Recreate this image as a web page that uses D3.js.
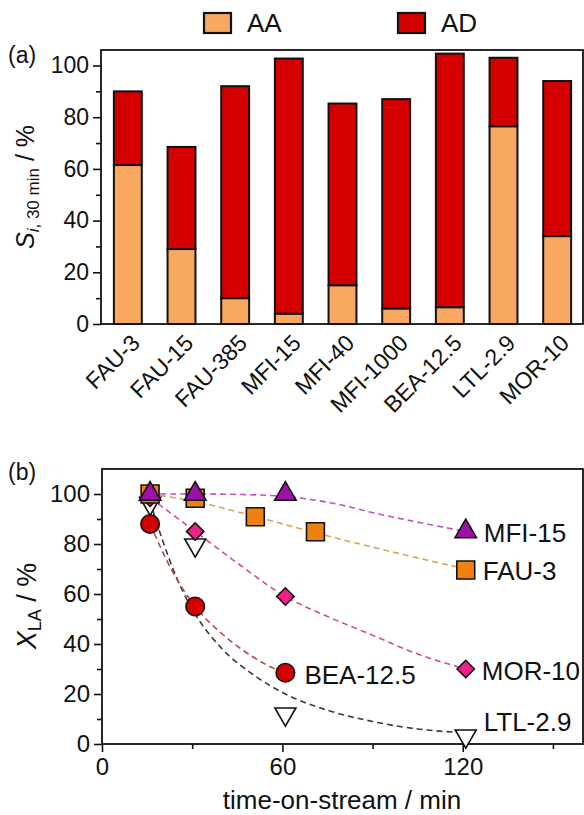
<!DOCTYPE html>
<html><head><meta charset="utf-8">
<script src="https://cdn.jsdelivr.net/npm/d3@7"></script>
<style>body{margin:0;background:#fff} svg{display:block;font-family:"Liberation Sans",Arial,sans-serif}</style>
</head><body><svg id="c" width="584" height="815"></svg>
<script>
// ---------- DATA ----------
const categories = ["FAU-3","FAU-15","FAU-385","MFI-15","MFI-40","MFI-1000","BEA-12.5","LTL-2.9","MOR-10"];
const aaValues = [61.5, 29, 10, 4, 15, 6, 6.5, 76.5, 34];
const adValues = [28.5, 39.5, 82, 98.7, 70.3, 81, 98.1, 26.5, 60];
const seriesNames = ["AA", "AD"];
const yTicksA = [0, 20, 40, 60, 80, 100];
const yMinorA = [10, 30, 50, 70, 90];

const sampleNames = ["MFI-15", "FAU-3", "MOR-10", "BEA-12.5", "LTL-2.9"];
const timeMFI15 = [16, 31, 61, 121];        const convMFI15 = [100, 100, 100, 85];
const timeFAU3  = [16, 31, 51, 71, 121];    const convFAU3  = [100, 98.3, 90.9, 84.9, 69.6];
const timeMOR10 = [16, 31, 61, 121];        const convMOR10 = [98.5, 85, 59, 30];
const timeBEA   = [16, 31, 61];             const convBEA   = [88, 55, 28.5];
const timeLTL   = [16, 31, 61, 121];        const convLTL   = [96.3, 79.6, 12, 3.2];
// dashed fit curves
const fitTMFI15 = [16, 31, 46, 61, 76, 92, 106, 121]; const fitMFI15 = [100, 100, 99.8, 99, 96.5, 92, 88.5, 85];
const fitTFAU3  = [16, 31, 51, 71, 96, 121];          const fitFAU3  = [100, 97, 91, 84.5, 77, 70];
const fitTMOR10 = [16, 31, 46, 61, 75, 90, 105, 121]; const fitMOR10 = [98.5, 85, 71.5, 59, 51, 43.5, 36, 30];
const fitTBEA   = [16, 23, 31, 40, 50, 61];           const fitBEA   = [88, 70, 55, 44, 35, 28];
const fitTLTL   = [16, 20, 25, 31, 40, 50, 61, 75, 90, 105, 121]; const fitLTL = [97, 82, 66, 52, 38, 28, 20, 13.5, 9, 6, 4.5];
const xTicksB = [0, 60, 120];
const xMinorB = [30, 90, 150];
const yTicksB = [0, 20, 40, 60, 80, 100];
const yMinorB = [10, 30, 50, 70, 90];

// ---------- STYLES ----------
const colAA = "#f9a862", colAD = "#d40000";
const svg = d3.select("#c");

// ================= PANEL A =================
const xA = d3.scaleBand().domain(categories).range([101, 584]).paddingInner(0.48).paddingOuter(0.24);
const yA = d3.scaleLinear().domain([0, 106]).range([324, 50]);
const rowsA = categories.map((c, i) => ({cat: c, AA: aaValues[i], AD: adValues[i]}));
const stack = d3.stack().keys(seriesNames)(rowsA);
const colors = {AA: colAA, AD: colAD};

const gA = svg.append("g");
stack.forEach(layer => {
  gA.append("g").selectAll("rect").data(layer).join("rect")
    .attr("x", d => xA(d.data.cat))
    .attr("width", xA.bandwidth())
    .attr("y", d => yA(d[1]))
    .attr("height", d => yA(d[0]) - yA(d[1]))
    .attr("fill", colors[layer.key])
    .attr("stroke", "#111").attr("stroke-width", 2);
});

// frame
gA.append("rect").attr("x", 101).attr("y", 50).attr("width", 482).attr("height", 274)
  .attr("fill", "none").attr("stroke", "#111").attr("stroke-width", 1.8);

const axA = d3.axisLeft(yA).tickValues(yTicksA).tickSize(8).tickPadding(4);
const gyA = svg.append("g").attr("transform", "translate(101,0)").call(axA);
gyA.select(".domain").remove();
gyA.selectAll("line").attr("stroke", "#111").attr("stroke-width", 1.6);
gyA.selectAll("text").attr("font-size", 23).attr("fill", "#111").attr("font-family", "Liberation Sans, Arial");
const gyAm = svg.append("g").attr("transform", "translate(101,0)").call(d3.axisLeft(yA).tickValues(yMinorA).tickSize(5).tickFormat(""));
gyAm.select(".domain").remove();
gyAm.selectAll("line").attr("stroke", "#111").attr("stroke-width", 1.6);

// x labels rotated
svg.append("g").selectAll("text").data(categories).join("text")
  .attr("transform", d => `translate(${xA(d) + xA.bandwidth()/2 + 2},${333}) rotate(-45)`)
  .attr("text-anchor", "end").attr("dy", "0.7em")
  .attr("font-size", 23).attr("fill", "#111")
  .text(d => d);

// y title A
const tA = svg.append("text").attr("transform", "translate(34,187) rotate(-90)")
  .attr("text-anchor", "middle").attr("font-size", 25).attr("fill", "#111");
tA.append("tspan").attr("font-style", "italic").text("S");
tA.append("tspan").attr("font-size", 17).attr("dy", 5).attr("font-style", "italic").text("i");
tA.append("tspan").attr("font-size", 17).text(", 30 min");
tA.append("tspan").attr("dy", -5).text(" / %");

svg.append("text").attr("x", 8).attr("y", 63).attr("font-size", 23).attr("fill", "#111").text("(a)");

// legend
const legX = [204, 398];
seriesNames.forEach((s, i) => {
  svg.append("rect").attr("x", legX[i]).attr("y", 13).attr("width", 27).attr("height", 20)
    .attr("fill", colors[s]).attr("stroke", "#111").attr("stroke-width", 2.2);
  svg.append("text").attr("x", legX[i] + 43).attr("y", 32).attr("font-size", 26).attr("fill", "#111").text(s);
});

// ================= PANEL B =================
const xB = d3.scaleLinear().domain([0, 160]).range([102, 583]);
const yB = d3.scaleLinear().domain([0, 110]).range([744, 469]);

svg.append("rect").attr("x", 102).attr("y", 469).attr("width", 481).attr("height", 275)
  .attr("fill", "none").attr("stroke", "#111").attr("stroke-width", 1.8);

const gxB = svg.append("g").attr("transform", "translate(0,744)").call(d3.axisBottom(xB).tickValues(xTicksB).tickSize(8).tickPadding(6));
gxB.select(".domain").remove();
gxB.selectAll("line").attr("stroke", "#111").attr("stroke-width", 1.6);
gxB.selectAll("text").attr("font-size", 24).attr("fill", "#111");
const gxBm = svg.append("g").attr("transform", "translate(0,744)").call(d3.axisBottom(xB).tickValues(xMinorB).tickSize(5).tickFormat(""));
gxBm.select(".domain").remove();
gxBm.selectAll("line").attr("stroke", "#111").attr("stroke-width", 1.6);

const gyB = svg.append("g").attr("transform", "translate(102,0)").call(d3.axisLeft(yB).tickValues(yTicksB).tickSize(8).tickPadding(4));
gyB.select(".domain").remove();
gyB.selectAll("line").attr("stroke", "#111").attr("stroke-width", 1.6);
gyB.selectAll("text").attr("font-size", 24).attr("fill", "#111");
const gyBm = svg.append("g").attr("transform", "translate(102,0)").call(d3.axisLeft(yB).tickValues(yMinorB).tickSize(5).tickFormat(""));
gyBm.select(".domain").remove();
gyBm.selectAll("line").attr("stroke", "#111").attr("stroke-width", 1.6);

const fits = [
  {t: fitTLTL, v: fitLTL, c: "#3a3a3a"},
  {t: fitTBEA, v: fitBEA, c: "#b84848"},
  {t: fitTMOR10, v: fitMOR10, c: "#d2508a"},
  {t: fitTFAU3, v: fitFAU3, c: "#e0a050"},
  {t: fitTMFI15, v: fitMFI15, c: "#c050c8"}
];
const line = d3.line().x(d => xB(d[0])).y(d => yB(d[1])).curve(d3.curveMonotoneX);
fits.forEach(f => {
  svg.append("path").attr("d", line(f.t.map((t, i) => [t, f.v[i]])))
    .attr("fill", "none").attr("stroke", f.c).attr("stroke-width", 1.6).attr("stroke-dasharray", "6,4");
});

const series = [
  {name: "LTL-2.9", t: timeLTL, v: convLTL, type: d3.symbolTriangle, size: 190, rot: 180, fill: "#ffffff", dx: 18, dy: -5},
  {name: "BEA-12.5", t: timeBEA, v: convBEA, type: d3.symbolCircle, size: 270, rot: 0, fill: "#d40000", dx: 19, dy: 11},
  {name: "MOR-10", t: timeMOR10, v: convMOR10, type: d3.symbolSquare, size: 150, rot: 45, fill: "#f0208a", dx: 16, dy: 11},
  {name: "FAU-3", t: timeFAU3, v: convFAU3, type: d3.symbolSquare, size: 320, rot: 0, fill: "#f08010", dx: 17, dy: 10},
  {name: "MFI-15", t: timeMFI15, v: convMFI15, type: d3.symbolTriangle, size: 200, rot: 0, fill: "#a010a8", dx: 18, dy: 10}
];
series.forEach(s => {
  const sym = d3.symbol().type(s.type).size(s.size);
  svg.append("g").selectAll("path").data(s.t.map((t, i) => [t, s.v[i]])).join("path")
    .attr("d", sym)
    .attr("transform", d => `translate(${xB(d[0])},${yB(d[1])}) rotate(${s.rot})`)
    .attr("fill", s.fill).attr("stroke", "#111").attr("stroke-width", 1.6);
  const last = [s.t[s.t.length - 1], s.v[s.v.length - 1]];
  svg.append("text").attr("x", xB(last[0]) + s.dx).attr("y", yB(last[1]) + s.dy)
    .attr("font-size", 26).attr("fill", "#111").text(s.name);
});

// y title B
const tB = svg.append("text").attr("transform", "translate(36,606) rotate(-90)")
  .attr("text-anchor", "middle").attr("font-size", 27).attr("fill", "#111");
tB.append("tspan").attr("font-style", "italic").text("X");
tB.append("tspan").attr("font-size", 18).attr("dy", 5).text("LA");
tB.append("tspan").attr("dy", -5).text(" / %");

svg.append("text").attr("x", 342).attr("y", 809).attr("text-anchor", "middle").attr("font-size", 26).attr("fill", "#111").text("time-on-stream / min");
svg.append("text").attr("x", 8).attr("y", 480).attr("font-size", 23).attr("fill", "#111").text("(b)");
</script></body></html>
